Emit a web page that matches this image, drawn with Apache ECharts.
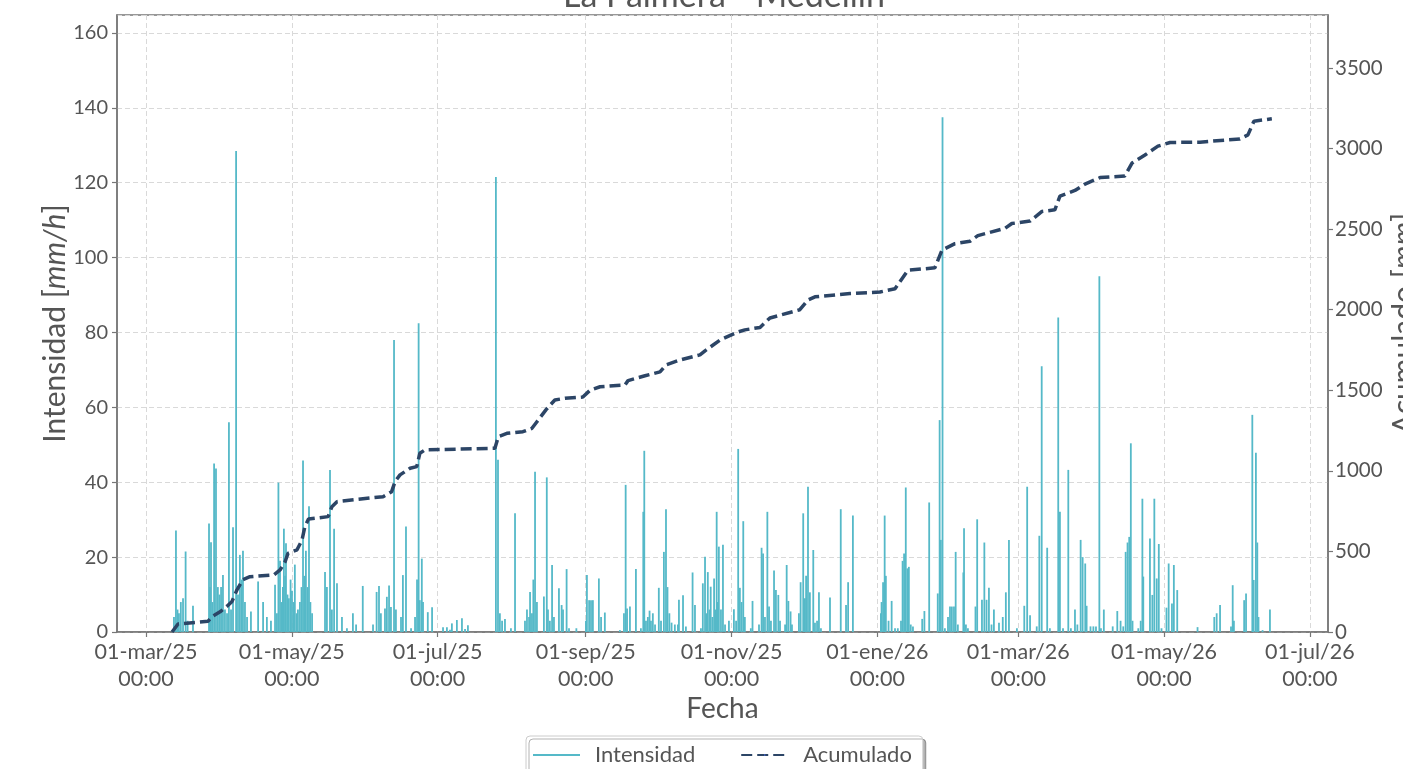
<!DOCTYPE html>
<html><head><meta charset="utf-8">
<script src="https://cdn.jsdelivr.net/npm/echarts@6/dist/echarts.min.js"></script>
<style>html,body{margin:0;padding:0;background:#fff}#c{width:1403px;height:769px}</style>
</head><body><div id="c"></div>
<script>
const titulo = 'La Palmera - Medellín';
const mesesEs = ['ene','feb','mar','abr','may','jun','jul','ago','sep','oct','nov','dic'];
const xTicks = ['2025-03-01 00:00','2025-05-01 00:00','2025-07-01 00:00','2025-09-01 00:00','2025-11-01 00:00','2026-01-01 00:00','2026-03-01 00:00','2026-05-01 00:00','2026-07-01 00:00'];
const xMin = '2025-02-16 21:00';
const xMax = '2026-07-08 14:00';

// Intensidad [mm/h]
const intensidad = [
['2025-03-12 17:00',4],['2025-03-13 13:00',27.1],['2025-03-14 05:00',6],['2025-03-14 19:00',5],['2025-03-15 14:00',8],
['2025-03-16 12:00',9],['2025-03-17 14:00',21.5],['2025-03-18 10:00',3],['2025-03-20 16:00',7],['2025-03-27 09:00',29],
['2025-03-27 19:00',12],['2025-03-28 05:00',24],['2025-03-28 19:00',8],['2025-03-29 12:00',45],['2025-03-30 07:00',43.7],
['2025-03-31 02:00',12],['2025-03-31 18:00',10],['2025-04-01 10:00',12],['2025-04-02 05:00',15.2],['2025-04-03 01:00',6],
['2025-04-03 22:00',5],['2025-04-04 17:00',56],['2025-04-05 14:00',6],['2025-04-06 10:00',28],['2025-04-07 17:00',128.5],
['2025-04-08 12:00',10],['2025-04-09 07:00',20.6],['2025-04-10 00:00',14],['2025-04-10 14:00',21.7],['2025-04-11 10:00',8],
['2025-04-12 07:00',4],['2025-04-13 22:00',5.5],['2025-04-16 22:00',13.5],['2025-04-19 00:00',8],['2025-04-20 14:00',4],
['2025-04-22 07:00',3],['2025-04-24 00:00',12.6],['2025-04-24 19:00',5],['2025-04-25 10:00',39.9],['2025-04-26 02:00',19],
['2025-04-26 17:00',8],['2025-04-27 07:00',12],['2025-04-27 17:00',27.6],['2025-04-28 05:00',15],['2025-04-28 14:00',23.7],
['2025-04-29 05:00',10],['2025-04-29 19:00',9],['2025-04-30 12:00',14],['2025-05-01 02:00',11],['2025-05-01 17:00',8],
['2025-05-02 07:00',18],['2025-05-03 00:00',5],['2025-05-03 14:00',6],['2025-05-04 10:00',8],['2025-05-05 02:00',12],
['2025-05-05 17:00',45.8],['2025-05-06 07:00',15],['2025-05-06 22:00',21.7],['2025-05-07 14:00',12],['2025-05-08 05:00',33.6],
['2025-05-08 19:00',8],['2025-05-09 12:00',5],['2025-05-14 22:00',16],['2025-05-15 17:00',12],['2025-05-17 00:00',43.3],
['2025-05-17 19:00',6],['2025-05-18 17:00',27.6],['2025-05-19 22:00',13],['2025-05-22 00:00',4],['2025-05-24 02:00',1],
['2025-05-26 14:00',5],['2025-05-27 22:00',2],['2025-05-30 17:00',12.3],['2025-06-04 00:00',2],['2025-06-05 12:00',10.7],
['2025-06-06 12:00',12.3],['2025-06-07 07:00',5],['2025-06-09 00:00',6.3],['2025-06-09 19:00',9.4],['2025-06-10 17:00',12.4],
['2025-06-11 12:00',6.7],['2025-06-12 19:00',78],['2025-06-13 14:00',6],['2025-06-15 17:00',4],['2025-06-16 12:00',15.2],
['2025-06-17 19:00',28.2],['2025-06-19 22:00',1],['2025-06-21 14:00',4],['2025-06-22 10:00',14],['2025-06-23 02:00',82.5],
['2025-06-23 14:00',8.5],['2025-06-24 10:00',19.6],['2025-06-24 22:00',8],['2025-06-26 22:00',5.3],['2025-06-28 17:00',6.6],
['2025-07-03 07:00',1.3],['2025-07-04 22:00',1.3],['2025-07-06 05:00',0.6],['2025-07-07 00:00',2.3],['2025-07-09 02:00',3.2],
['2025-07-11 05:00',3.7],['2025-07-12 12:00',0.8],['2025-07-13 17:00',1.8],['2025-07-25 10:00',121.5],['2025-07-26 07:00',46],
['2025-07-27 02:00',5],['2025-07-28 00:00',3],['2025-07-29 05:00',3.5],['2025-07-31 17:00',1],['2025-08-02 10:00',31.7],
['2025-08-06 14:00',3],['2025-08-07 10:00',6],['2025-08-08 07:00',4],['2025-08-08 17:00',10.7],['2025-08-09 12:00',5],
['2025-08-10 02:00',14],['2025-08-10 19:00',42.8],['2025-08-11 14:00',8],['2025-08-14 12:00',9.5],['2025-08-15 17:00',41.3],
['2025-08-16 05:00',6],['2025-08-17 00:00',3],['2025-08-17 22:00',17.9],['2025-08-18 17:00',4],['2025-08-20 19:00',11.7],
['2025-08-21 22:00',7.2],['2025-08-22 12:00',6],['2025-08-24 00:00',16.8],['2025-08-25 00:00',1],['2025-08-28 02:00',1],
['2025-09-01 02:00',3],['2025-09-01 12:00',15.2],['2025-09-02 10:00',8.5],['2025-09-03 05:00',8.5],['2025-09-04 00:00',8.5],
['2025-09-06 12:00',14.3],['2025-09-07 10:00',4],['2025-09-09 00:00',5.2],['2025-09-15 07:00',0.5],['2025-09-17 00:00',5],
['2025-09-17 17:00',39.3],['2025-09-18 07:00',6.3],['2025-09-19 12:00',6.8],['2025-09-22 00:00',16.8],['2025-09-24 02:00',1],
['2025-09-25 02:00',32.1],['2025-09-25 12:00',48.4],['2025-09-26 05:00',3],['2025-09-27 00:00',4],['2025-09-27 17:00',5.7],
['2025-09-28 07:00',3],['2025-09-29 02:00',5],['2025-09-30 00:00',2],['2025-10-01 14:00',11.8],['2025-10-02 12:00',3],
['2025-10-03 17:00',21.4],['2025-10-04 14:00',32.8],['2025-10-05 05:00',12],['2025-10-06 00:00',5],['2025-10-06 22:00',2.5],
['2025-10-08 07:00',2],['2025-10-09 14:00',2],['2025-10-10 00:00',8.6],['2025-10-11 17:00',9.8],['2025-10-12 22:00',1.5],
['2025-10-15 17:00',15.9],['2025-10-16 17:00',7.2],['2025-10-19 05:00',1],['2025-10-20 00:00',13],['2025-10-20 22:00',20.1],
['2025-10-21 12:00',5],['2025-10-22 02:00',16],['2025-10-22 19:00',6],['2025-10-23 07:00',12.1],['2025-10-24 00:00',4],
['2025-10-24 17:00',14.3],['2025-10-25 07:00',6],['2025-10-25 19:00',32.1],['2025-10-26 07:00',8],['2025-10-26 17:00',22.8],
['2025-10-27 14:00',6],['2025-10-28 10:00',23.3],['2025-10-29 07:00',2],['2025-10-30 22:00',3],['2025-11-02 00:00',6.1],
['2025-11-02 22:00',3],['2025-11-03 19:00',48.9],['2025-11-04 12:00',11.8],['2025-11-05 05:00',8],['2025-11-05 22:00',29.6],
['2025-11-06 14:00',4],['2025-11-09 02:00',1],['2025-11-09 19:00',8.3],['2025-11-12 12:00',2],['2025-11-13 14:00',22.5],
['2025-11-14 05:00',21],['2025-11-15 00:00',4],['2025-11-16 00:00',32.1],['2025-11-16 17:00',6.8],['2025-11-17 12:00',3],
['2025-11-18 19:00',16.4],['2025-11-19 14:00',11.2],['2025-11-20 14:00',9.9],['2025-11-21 07:00',3],['2025-11-23 10:00',2],
['2025-11-24 02:00',17.9],['2025-11-24 19:00',8.3],['2025-11-25 17:00',5.5],['2025-11-26 07:00',2],['2025-11-29 05:00',5],
['2025-11-29 22:00',13.3],['2025-12-01 00:00',31.7],['2025-12-01 17:00',9],['2025-12-02 05:00',15],['2025-12-03 00:00',38.8],
['2025-12-03 19:00',10.6],['2025-12-05 05:00',21.9],['2025-12-05 22:00',2.5],['2025-12-06 19:00',3],['2025-12-07 14:00',10.6],
['2025-12-08 10:00',1],['2025-12-12 05:00',9.2],['2025-12-16 17:00',32.8],['2025-12-18 22:00',7.2],['2025-12-19 19:00',13.3],
['2025-12-21 19:00',31.1],['2026-01-02 12:00',5],['2026-01-02 19:00',8],['2026-01-03 10:00',13.3],['2026-01-04 02:00',31.1],
['2026-01-04 14:00',15],['2026-01-05 17:00',3],['2026-01-07 00:00',8.3],['2026-01-08 10:00',1],['2026-01-09 14:00',1],
['2026-01-10 22:00',3],['2026-01-11 14:00',19],['2026-01-12 05:00',21],['2026-01-12 22:00',38.6],['2026-01-13 14:00',17],
['2026-01-14 05:00',17.4],['2026-01-15 00:00',2],['2026-01-15 22:00',1.5],['2026-01-19 19:00',3.5],['2026-01-20 17:00',5.6],
['2026-01-22 17:00',34.6],['2026-01-26 07:00',10.3],['2026-01-27 02:00',56.6],['2026-01-27 14:00',24.6],['2026-01-28 07:00',137.5],
['2026-01-29 07:00',1],['2026-01-30 14:00',4],['2026-01-31 10:00',6.8],['2026-02-01 05:00',6.8],['2026-02-02 02:00',6.8],
['2026-02-02 19:00',21.4],['2026-02-03 17:00',2],['2026-02-06 00:00',15.9],['2026-02-06 07:00',27.7],['2026-02-07 02:00',2],
['2026-02-07 22:00',1],['2026-02-11 02:00',6.8],['2026-02-11 19:00',30.1],['2026-02-13 19:00',8.6],['2026-02-14 19:00',23.9],
['2026-02-15 17:00',8.6],['2026-02-16 17:00',11.8],['2026-02-17 19:00',2],['2026-02-18 19:00',6],['2026-02-20 22:00',2.5],
['2026-02-22 12:00',4],['2026-02-23 19:00',10.6],['2026-02-25 02:00',24.6],['2026-02-28 10:00',1],['2026-03-03 12:00',7],
['2026-03-04 17:00',38.8],['2026-03-05 22:00',4.5],['2026-03-08 17:00',1.5],['2026-03-09 19:00',25.7],['2026-03-10 19:00',71],
['2026-03-13 02:00',22.5],['2026-03-14 05:00',1],['2026-03-17 17:00',84],['2026-03-18 10:00',32.1],['2026-03-19 17:00',1],
['2026-03-21 22:00',43.3],['2026-03-23 00:00',1],['2026-03-24 17:00',6],['2026-03-25 17:00',2],['2026-03-27 02:00',24.6],
['2026-03-27 22:00',20],['2026-03-29 00:00',18.3],['2026-03-29 14:00',7],['2026-03-31 05:00',1.5],['2026-04-01 10:00',1.5],
['2026-04-02 12:00',1.5],['2026-04-03 22:00',95],['2026-04-04 14:00',1],['2026-04-05 19:00',6],['2026-04-09 12:00',1.5],
['2026-04-11 10:00',5.6],['2026-04-12 19:00',3],['2026-04-13 22:00',1.5],['2026-04-14 22:00',21.4],['2026-04-15 17:00',23.9],
['2026-04-16 10:00',25.4],['2026-04-17 02:00',50.4],['2026-04-17 19:00',3],['2026-04-20 05:00',1],['2026-04-21 05:00',3],
['2026-04-21 22:00',35.6],['2026-04-22 07:00',14.8],['2026-04-25 02:00',25],['2026-04-26 02:00',9.9],['2026-04-26 22:00',35.6],
['2026-04-27 22:00',14.3],['2026-04-28 19:00',23.5],['2026-04-29 22:00',1],['2026-05-02 00:00',6.5],['2026-05-02 22:00',18.3],
['2026-05-04 07:00',7.6],['2026-05-05 02:00',17.9],['2026-05-06 12:00',11.2],['2026-05-15 00:00',1.3],['2026-05-22 00:00',4],
['2026-05-23 00:00',5],['2026-05-24 10:00',7.2],['2026-05-29 00:00',1.5],['2026-05-29 17:00',12.5],['2026-05-30 05:00',3],
['2026-06-03 12:00',8.5],['2026-06-04 07:00',10.3],['2026-06-06 22:00',58],['2026-06-07 12:00',13.9],['2026-06-08 10:00',47.9],
['2026-06-09 00:00',23.9],['2026-06-09 12:00',4],['2026-06-11 05:00',0.5],['2026-06-14 07:00',6]
];

// Acumulado [mm]
const acumulado = [
['2025-03-11 22:00',0],['2025-03-14 10:00',50],['2025-03-15 00:00',62],['2025-03-26 22:00',66],['2025-03-28 14:00',95],
['2025-04-01 00:00',125],['2025-04-03 22:00',160],['2025-04-06 00:00',190],['2025-04-08 02:00',262],['2025-04-10 14:00',325],
['2025-04-13 12:00',343],['2025-04-23 14:00',355],['2025-04-26 02:00',385],['2025-04-28 05:00',436],['2025-04-29 10:00',488],
['2025-05-03 05:00',510],['2025-05-05 07:00',571],['2025-05-06 12:00',654],['2025-05-08 00:00',701],['2025-05-16 05:00',716],
['2025-05-17 19:00',778],['2025-05-19 22:00',809],['2025-06-08 05:00',840],['2025-06-11 19:00',871],['2025-06-13 05:00',933],
['2025-06-15 07:00',975],['2025-06-19 12:00',1016],['2025-06-22 07:00',1026],['2025-06-23 14:00',1109],['2025-06-25 17:00',1130],
['2025-07-25 00:00',1140],['2025-07-26 10:00',1212],['2025-07-30 00:00',1233],['2025-08-05 17:00',1243],['2025-08-09 12:00',1264],
['2025-08-11 14:00',1305],['2025-08-15 10:00',1380],['2025-08-19 02:00',1440],['2025-08-23 07:00',1450],['2025-08-30 19:00',1458],
['2025-09-02 19:00',1500],['2025-09-07 00:00',1522],['2025-09-17 10:00',1533],['2025-09-18 17:00',1560],['2025-09-25 19:00',1590],
['2025-10-02 02:00',1614],['2025-10-04 14:00',1657],['2025-10-10 10:00',1688],['2025-10-18 19:00',1720],['2025-10-20 22:00',1745],
['2025-10-27 05:00',1812],['2025-11-03 17:00',1862],['2025-11-06 14:00',1875],['2025-11-12 22:00',1890],['2025-11-17 02:00',1949],
['2025-11-29 14:00',2000],['2025-12-03 00:00',2060],['2025-12-05 22:00',2080],['2025-12-20 14:00',2100],['2026-01-02 02:00',2110],
['2026-01-08 10:00',2130],['2026-01-13 19:00',2245],['2026-01-25 02:00',2260],['2026-01-28 02:00',2370],['2026-02-02 12:00',2410],
['2026-02-08 19:00',2425],['2026-02-12 02:00',2460],['2026-02-23 10:00',2505],['2026-02-26 07:00',2535],['2026-03-05 22:00',2550],
['2026-03-10 22:00',2610],['2026-03-16 07:00',2620],['2026-03-18 10:00',2705],['2026-03-24 17:00',2740],['2026-03-28 22:00',2780],
['2026-04-04 05:00',2820],['2026-04-14 14:00',2830],['2026-04-17 14:00',2910],['2026-04-23 00:00',2960],['2026-04-28 10:00',3015],
['2026-05-03 12:00',3038],['2026-05-16 00:00',3040],['2026-06-01 17:00',3060],['2026-06-05 02:00',3085],['2026-06-07 14:00',3170],
['2026-06-15 02:00',3185]
];

const pad = n => String(n).padStart(2, '0');
const toTs = s => new Date(s.replace(' ', 'T') + ':00').getTime();
const tickTs = xTicks.map(toTs);
const fmtFecha = v => {
  const d = new Date(v);
  return pad(d.getDate()) + '-' + mesesEs[d.getMonth()] + '/' + String(d.getFullYear()).slice(2) +
    '\n' + pad(d.getHours()) + ':' + pad(d.getMinutes());
};
const intensidadData = intensidad.map(p => [toTs(p[0]), p[1]]);
const acumuladoData = acumulado.map(p => [toTs(p[0]), p[1]]);

const txt = '#555';
const axisCol = '#777';
const font = 'Lato';

const chart = echarts.init(document.getElementById('c'));
chart.setOption({
  animation: false,
  textStyle: { fontFamily: font },
  title: {
    text: titulo, left: 719, textAlign: 'center', top: -26,
    textStyle: { fontSize: 34, fontWeight: 'normal', color: txt, fontFamily: font }
  },
  grid: { left: 117, right: 75, top: 15, bottom: 137, show: true, borderColor: axisCol, borderWidth: 1.5, outerBoundsMode: 'none', containLabel: false },
  legend: {
    left: 526, top: 736, itemWidth: 47, itemHeight: 2, itemGap: 45,
    padding: [8, 11, 14, 7],
    borderColor: '#ccc', borderWidth: 1, borderRadius: 4, backgroundColor: '#fff',
    shadowColor: 'rgba(0,0,0,0.3)', shadowOffsetX: 3, shadowOffsetY: 3, shadowBlur: 0,
    textStyle: { fontSize: 22, color: txt, fontFamily: font, padding: [0, 0, 0, 10] },
    data: [{ name: 'Intensidad', icon: 'rect' }, { name: 'Acumulado' }]
  },
  xAxis: {
    type: 'value', min: toTs(xMin), max: toTs(xMax), scale: true,
    name: 'Fecha', nameLocation: 'middle', nameGap: 63, nameMoveOverlap: false,
    nameTextStyle: { fontSize: 28, color: txt, fontFamily: font },
    axisLine: { lineStyle: { color: axisCol, width: 1.5 } },
    axisTick: { customValues: tickTs, length: 5, lineStyle: { color: axisCol, width: 1.2 } },
    axisLabel: { customValues: tickTs, formatter: fmtFecha, fontSize: 21.5, color: txt, lineHeight: 27, margin: 7, fontFamily: font },
    splitLine: { show: true, lineStyle: { type: [5, 3], color: '#d9d9d9', width: 1 } }
  },
  yAxis: [{
    type: 'value', min: 0, max: 164.8, interval: 20,
    name: 'Intensidad [{i|mm/h}]', nameLocation: 'middle', nameGap: 47, nameRotate: 90, nameMoveOverlap: false,
    nameTextStyle: { fontSize: 30, color: txt, fontFamily: font, rich: { i: { fontStyle: 'italic', fontSize: 30, color: txt, fontFamily: font } } },
    axisLine: { show: true, lineStyle: { color: axisCol, width: 1.5 } },
    axisTick: { show: true, length: 5, lineStyle: { color: axisCol, width: 1.2 } },
    axisLabel: { showMaxLabel: false, fontSize: 20, color: txt, margin: 9, fontFamily: font },
    splitLine: { show: true, lineStyle: { type: [5, 3], color: '#d9d9d9', width: 1 } }
  }, {
    type: 'value', position: 'right', min: 0, max: 3829, interval: 500,
    name: 'Acumulado [{i|mm}]', nameLocation: 'middle', nameGap: 61, nameRotate: 90, nameMoveOverlap: false,
    nameTextStyle: { fontSize: 30, color: txt, fontFamily: font, rich: { i: { fontStyle: 'italic', fontSize: 30, color: txt, fontFamily: font } } },
    axisLine: { show: true, lineStyle: { color: axisCol, width: 1.5 } },
    axisTick: { show: true, length: 5, lineStyle: { color: axisCol, width: 1.2 } },
    axisLabel: { showMaxLabel: false, formatter: v => String(v), fontSize: 20.5, color: txt, margin: 7, fontFamily: font },
    splitLine: { show: false }
  }],
  series: [{
    name: 'Intensidad', type: 'bar', yAxisIndex: 0, data: intensidadData,
    barWidth: 1.8, itemStyle: { color: '#55b9c8' }, z: 2
  }, {
    name: 'Acumulado', type: 'line', yAxisIndex: 1, data: acumuladoData,
    symbol: 'none', showSymbol: false,
    lineStyle: { color: '#2c4566', width: 3.5, type: [11, 5] }, z: 3
  }]
});
</script></body></html>
